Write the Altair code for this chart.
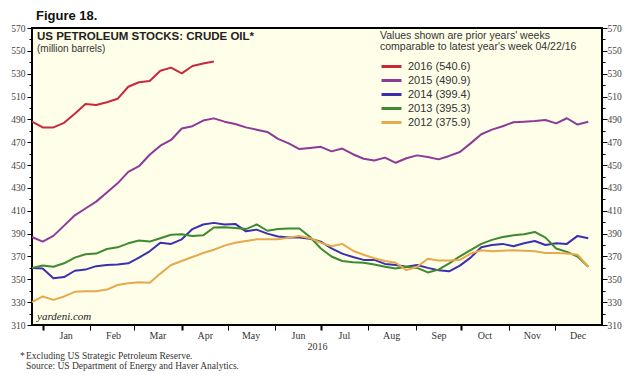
import altair as alt
import pandas as pd

years = ["2016", "2015", "2014", "2013", "2012"]
latest = ["540.6", "490.9", "399.4", "395.3", "375.9"]
colors = ["#c8283c", "#8e3a98", "#3b30b0", "#3e8a2e", "#e6a94c"]

week_start = "2015-12-25"
n_weeks = 53

v2016 = [488, 483, 483, 487, 495, 503.5, 502.6, 505, 508, 518.6, 522.5, 523.6,
         532.6, 535.3, 530.3, 536.7, 539, 540.6]
v2015 = [387, 383, 388, 397, 406, 412, 418, 426, 434, 444, 449, 459, 467, 472,
         482, 484, 489, 490.9, 488, 486, 483, 481, 479, 473, 469, 464, 465, 466,
         462, 464.5, 459.5, 455.5, 454, 456.5, 452, 456, 458.5, 457, 455, 458,
         461.5, 469, 477, 481, 484, 487.5, 488, 488.5, 489.5, 486.5, 491, 485.5, 488]
v2014 = [360, 359.5, 351, 352, 357.5, 358.5, 361.5, 362.5, 363, 364, 369, 374.5,
         382, 381, 385, 394, 398, 399.4, 398, 398.5, 392, 393.5, 390, 387.5, 386.5,
         386.5, 385.5, 383, 377, 372.5, 369.5, 367, 367, 363.5, 362.5, 361, 362.5,
         360, 358, 357, 362, 369, 378, 380, 381, 379, 381.5, 383.5, 380, 381.5,
         381, 388, 386]
v2013 = [360, 362, 361, 364, 369, 372, 372.5, 376.5, 378, 381.5, 384, 383, 386,
         389, 389.5, 388, 388.5, 395.3, 395.5, 395, 394, 398, 392.5, 394, 394.5,
         394.5, 387, 377, 370, 366, 365, 364.5, 363, 361, 359.5, 361, 360, 356,
         358.5, 364, 370, 375.5, 381, 384.5, 387, 388.5, 389.5, 391.5, 386.5, 377,
         374, 370, 361]
v2012 = [330, 335, 332, 335, 339, 339.5, 339.5, 341, 345, 346.5, 347.5, 347, 355,
         362.5, 366, 369.5, 373, 375.9, 379.5, 382, 383.5, 385, 385, 385, 386.5,
         388, 386, 382, 379, 381, 375, 371.5, 368.5, 366, 364.5, 358, 361, 368,
         366.5, 366.5, 367, 372.5, 375.5, 374.5, 375, 375.5, 375, 374.5, 373, 373,
         372.5, 371.5, 361]

y_ticks = list(range(310, 571, 10))

dates = pd.date_range(week_start, periods=n_weeks, freq="7D")
series = [v2016, v2015, v2014, v2013, v2012]
labels = [f"{y} ({l})" for y, l in zip(years, latest)]
rows = []
for lab, vals in zip(labels, series):
    for d, v in zip(dates, vals):
        rows.append({"series": lab, "date": d, "value": v})
df = pd.DataFrame(rows)

SERIF = "Liberation Serif"
SANS = "Liberation Sans"

x_scale = alt.Scale(domain=[alt.DateTime(year=2015, month=12, date=25),
                            alt.DateTime(year=2017, month=1, date=1)])
y_scale = alt.Scale(domain=[310, 570], nice=False, zero=False)

QTEST = "month(datum.value) % 3 == 0"
x_axis = alt.Axis(
    values=[alt.DateTime(year=2016, month=m, date=1) for m in range(1, 13)],
    format="%b", labelOffset=23, grid=False, domain=False,
    tickColor="black", tickSize=5,
    tickWidth={"condition": {"test": QTEST, "value": 2}, "value": 1},
    labelFont=SERIF, labelFontSize=10, labelColor="#333", labelPadding=0,
    title="2016", titleFont=SERIF, titleFontSize=10, titleFontWeight="normal",
    titleColor="#333", titlePadding=1,
)

def y_axis(orient, pad):
    return alt.Axis(
        orient=orient, values=y_ticks, grid=False, domain=False, title=None,
        labelExpr="datum.value % 20 == 10 ? datum.label : ''",
        tickColor="black",
        tickSize={"condition": {"test": "datum.value % 20 == 10", "value": 5}, "value": 3},
        labelFont=SERIF, labelFontSize=9.5, labelColor="#444", labelPadding=pad,
    )

lines = alt.Chart(df).mark_line(strokeWidth=2, strokeJoin="round").encode(
    x=alt.X("date:T", scale=x_scale, axis=x_axis),
    y=alt.Y("value:Q", scale=y_scale, axis=y_axis("left", 2)),
    color=alt.Color("series:N", sort=labels,
                    scale=alt.Scale(domain=labels, range=colors),
                    legend=alt.Legend(
                        orient="none", legendX=353, legendY=32, title=None,
                        symbolType="M-2,0H2", symbolSize=100, symbolStrokeWidth=3,
                        labelFont=SANS, labelFontSize=11, labelColor="#333",
                        labelOffset=10, rowPadding=1, padding=0)),
)

right = alt.Chart(df).mark_point(opacity=0).encode(
    x=alt.X("date:T", scale=x_scale, axis=x_axis),
    y=alt.Y("value:Q", scale=y_scale, axis=y_axis("right", 0)),
)

def note(text, x, y, size, font=SANS, weight="normal", style="normal", color="#333", align="left"):
    return alt.Chart(pd.DataFrame({"t": [text]})).mark_text(
        align=align, baseline="alphabetic", font=font, fontSize=size,
        fontWeight=weight, fontStyle=style, color=color,
    ).encode(x=alt.value(x), y=alt.value(y), text="t:N")

texts = [
    note("Figure 18.", 4, -8, 13, weight="bold", color="#111"),
    note("US PETROLEUM STOCKS: CRUDE OIL*", 5, 12, 11.5, weight="bold", color="#222"),
    note("(million barrels)", 5, 24, 10),
    note("Values shown are prior years' weeks", 348, 11, 10.5),
    note("comparable to latest year's week 04/22/16", 348, 22, 10.5),
    note("yardeni.com", 5, 292, 11, font=SERIF, style="italic", color="#222"),
    note("*", -12, 331, 9.5, font=SERIF),
    note("Excluding US Strategic Petroleum Reserve.", -6, 331, 9.5, font=SERIF),
    note("Source: US Department of Energy and Haver Analytics.", -6, 341, 9.5, font=SERIF),
]

chart = alt.layer(lines, right, *texts).resolve_scale(y="shared").resolve_axis(y="independent").properties(
    width=570, height=297,
    autosize=alt.AutoSizeParams(type="none"),
    padding={"left": 24, "top": 20, "right": 20, "bottom": 47},
    background="white",
).configure_view(fill="#fefee9", stroke="black", strokeWidth=2)

chart.save("out.html", embed_options={"renderer": "svg", "actions": False})
